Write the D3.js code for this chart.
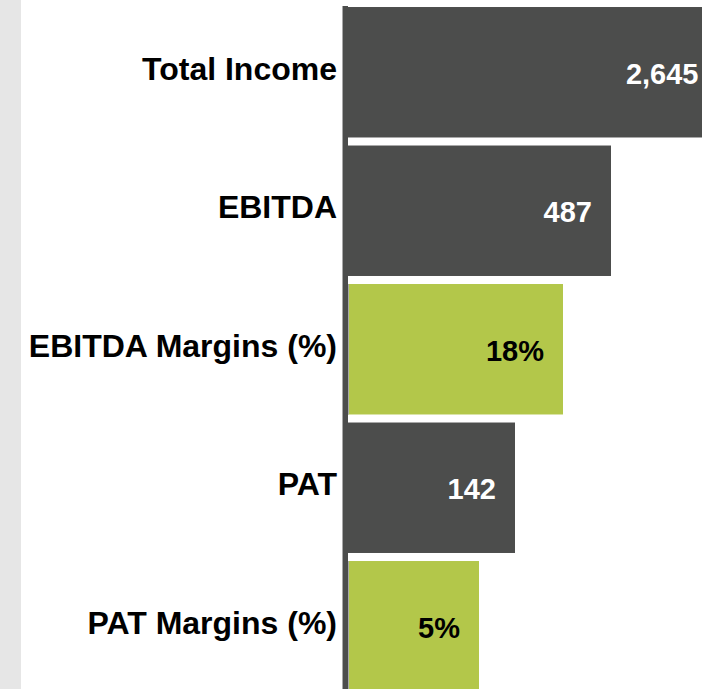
<!DOCTYPE html>
<html>
<head>
<meta charset="utf-8">
<script src="https://cdn.jsdelivr.net/npm/d3@7"></script>
<style>
  html, body { margin: 0; padding: 0; background: #ffffff; }
  svg { display: block; }
</style>
</head>
<body>
<svg id="chart" width="702" height="689"></svg>
<script>
// ---- data ----
const categories = ["Total Income", "EBITDA", "EBITDA Margins (%)", "PAT", "PAT Margins (%)"];
const values = [2645, 487, 18, 142, 5];
const valueLabels = ["2,645", "487", "18%", "142", "5%"];
const isMargin = [false, false, true, false, true];

// ---- layout ----
const W = 702, H = 689;
const x0 = 343;
const svg = d3.select("#chart");

svg.append("rect").attr("x", 0).attr("y", 0).attr("width", 21).attr("height", H).attr("fill", "#e6e6e6");

const y = d3.scaleBand().domain(categories).range([3, 695.5]).paddingInner(0.058).paddingOuter(0.029);

// funnel-style lengths: separate log scales for amounts and margins
const xAmt = d3.scaleLog().domain([142, 487]).range([515, 611]);
const xPct = d3.scaleLog().domain([5, 18]).range([479, 563]);

const rows = categories.map((c, i) => ({
  cat: c, v: values[i], label: valueLabels[i], pct: isMargin[i]
}));
const xEnd = d => d.pct ? xPct(d.v) : xAmt(d.v);

svg.selectAll("rect.bar").data(rows).join("rect")
  .attr("class", "bar")
  .attr("x", x0)
  .attr("y", d => y(d.cat))
  .attr("width", d => xEnd(d) - x0)
  .attr("height", y.bandwidth())
  .attr("fill", d => d.pct ? "#b3c74a" : "#4c4d4c");

// axis line
svg.append("rect").attr("x", 343).attr("y", 6).attr("width", 5).attr("height", H)
  .attr("fill", "#4c4d4c");
svg.append("line").attr("x1", 342.5).attr("x2", 342.5).attr("y1", 6).attr("y2", H)
  .attr("stroke", "#a8a8a8").attr("stroke-width", 1);
// light edge between axis and green bars
svg.selectAll("line.edge").data(rows.filter(d => d.pct)).join("line")
  .attr("class", "edge")
  .attr("x1", 348.5).attr("x2", 348.5)
  .attr("y1", d => y(d.cat)).attr("y2", d => y(d.cat) + y.bandwidth())
  .attr("stroke", "#a8a8a8").attr("stroke-width", 1);

// category labels
svg.selectAll("text.cat").data(rows).join("text")
  .attr("class", "cat")
  .attr("x", 337)
  .attr("y", d => y(d.cat) + y.bandwidth() / 2)
  .attr("dy", "0.23em")
  .attr("text-anchor", "end")
  .attr("font-family", "'Liberation Sans', Arial, sans-serif")
  .attr("font-weight", "bold")
  .attr("font-size", "32px")
  .attr("fill", "#000")
  .text(d => d.cat);

// value labels
svg.selectAll("text.val").data(rows).join("text")
  .attr("class", "val")
  .attr("x", d => Math.min(xEnd(d) - 19, 698.5))
  .attr("y", d => y(d.cat) + y.bandwidth() / 2)
  .attr("dy", "0.4em")
  .attr("text-anchor", "end")
  .attr("font-family", "'Liberation Sans', Arial, sans-serif")
  .attr("font-weight", "bold")
  .attr("font-size", "29px")
  .attr("fill", d => d.pct ? "#000" : "#fff")
  .text(d => d.label);
</script>
</body>
</html>
